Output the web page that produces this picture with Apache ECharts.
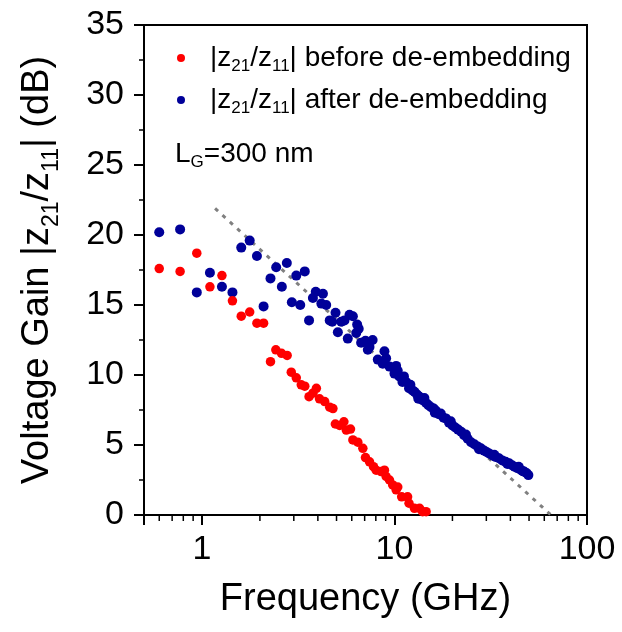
<!DOCTYPE html>
<html>
<head>
<meta charset="utf-8">
<script src="https://cdn.jsdelivr.net/npm/echarts@6/dist/echarts.min.js"></script>
<style>
  html, body { margin: 0; padding: 0; background: #fff; }
  #chart-container { width: 622px; height: 632px; }
</style>
</head>
<body>
<div id="chart-container"></div>
<script>
var dom = document.getElementById("chart-container");
var myChart = echarts.init(dom, null, { renderer: "canvas" });

var FONT = "Liberation Sans";

// |z21/z11| before de-embedding
var freqBefore = [0.60, 0.77, 0.94, 1.10, 1.27, 1.44, 1.60, 1.77, 1.93, 2.09,
  2.27, 2.42, 2.59, 2.77, 2.91, 3.09, 3.28, 3.42, 3.60, 3.77,
  3.93, 4.08, 4.34, 4.61, 4.79, 4.93, 5.19, 5.46, 5.62, 5.91,
  6.08, 6.45, 6.85, 7.07, 7.42, 7.78, 8.03, 8.52, 8.87, 9.05,
  9.42, 9.79, 10.2, 10.4, 10.9, 11.7, 11.9, 12.7, 13.5, 14.0, 14.6];
var gainBefore = [17.6, 17.4, 18.7, 16.3, 17.1, 15.3, 14.2, 14.5, 13.7, 13.7,
  10.95, 11.8, 11.55, 11.4, 10.2, 9.8, 9.3, 9.2, 8.45, 8.7,
  9.05, 8.3, 8.1, 7.7, 7.6, 6.5, 6.4, 6.66, 6.07, 6.14,
  5.36, 5.2, 4.76, 4.1, 3.8, 3.45, 3.2, 3.1, 3.2, 2.75,
  2.5, 2.15, 1.8, 2.0, 1.3, 1.3, 0.84, 0.48, 0.48, 0.24, 0.24];

// |z21/z11| after de-embedding
var freqAfter = [0.60, 0.77, 0.94, 1.10, 1.27, 1.44, 1.60, 1.77, 1.93, 2.09,
  2.27, 2.43, 2.60, 2.76, 2.93, 3.09, 3.24, 3.42, 3.60, 3.77,
  3.90, 4.17, 4.25, 4.42, 4.61, 4.75, 4.94, 5.08, 5.29, 5.50,
  5.72, 5.84, 6.08, 6.33, 6.40, 6.52, 6.71, 7.07, 7.27, 7.42,
  7.70, 8.19, 8.69, 8.87, 9.05, 9.42, 10.0, 10.2, 10.4, 10.6,
  11.0, 11.2, 11.5, 11.9, 12.1, 12.4, 12.7, 13.1, 13.3, 13.5,
  14.0, 14.3, 14.6, 15.0, 15.5, 16.0, 16.2, 16.4, 17.0, 17.4,
  18.0, 18.5, 19.2, 19.6, 20.0, 20.7, 21.4, 22.2, 23.0, 23.5,
  24.0, 25.0, 26.0, 27.0, 27.5, 28.1, 29.2, 30.1, 31.0, 32.3,
  33.0, 33.5, 34.9, 36.3, 37.8, 38.6, 39.4, 40.8, 42.0, 43.5,
  44.2, 45.0, 46.2, 47.1, 48.5, 49.6];
var gainAfter = [20.2, 20.4, 15.9, 17.3, 16.3, 15.9, 19.1, 19.6, 18.5, 14.9,
  16.9, 17.7, 16.3, 18.0, 15.2, 17.1, 15.0, 17.4, 13.9, 15.5,
  15.95, 15.1, 15.8, 15.0, 13.9, 13.8, 14.45, 13.05, 13.8, 13.9,
  12.6, 14.3, 14.2, 13.0, 13.6, 13.3, 12.3, 12.45, 11.8, 12.0,
  12.5, 11.1, 10.8, 11.7, 11.2, 10.6, 10.1, 10.65, 10.3, 9.9,
  9.5, 9.9, 9.5, 9.05, 9.3, 8.9, 8.8, 8.6, 8.3, 8.45,
  8.2, 8.35, 8.0, 7.85, 7.7, 7.6, 7.3, 7.45, 7.2, 7.25,
  6.95, 6.9, 6.6, 6.7, 6.4, 6.25, 6.1, 5.95, 5.7, 5.75,
  5.45, 5.2, 5.05, 4.9, 4.7, 4.76, 4.6, 4.5, 4.4, 4.25,
  4.3, 4.15, 4.05, 3.9, 3.8, 3.65, 3.7, 3.55, 3.45, 3.35,
  3.45, 3.25, 3.15, 3.1, 3.0, 2.85];

// dotted guide line
var trendFreq = [1.17, 65];
var trendGain = [21.9, 0];

// axis ticks
var xMajorTicks = [1, 10, 100];
var xMinorTicks = [0.6, 0.7, 0.8, 0.9, 2, 3, 4, 5, 6, 7, 8, 9,
  20, 30, 40, 50, 60, 70, 80, 90];

function zip(xs, ys) {
  return xs.map(function (x, i) { return [x, ys[i]]; });
}

var richMain = function (size, lh) {
  return {
    n: { fontSize: size, fontFamily: FONT, color: "#000", lineHeight: lh },
    s: { fontSize: Math.round(size * 0.6), fontFamily: FONT, color: "#000",
         lineHeight: Math.round(size * 0.6), verticalAlign: "top",
         padding: [Math.round(size * 0.62), 0, 0, 0] }
  };
};

var legendNames = {
  before: "{n||z}{s|21}{n|/z}{s|11}{n|| before de-embedding}",
  after: "{n||z}{s|21}{n|/z}{s|11}{n|| after de-embedding}"
};

var legendRich = richMain(28, 34);
legendRich.p = { width: 20 };

var option = {
  backgroundColor: "#fff",
  animation: false,
  grid: {
    left: 144, right: 35, top: 25, bottom: 117,
    show: true, borderColor: "#000", borderWidth: 2, containLabel: false
  },
  legend: {
    orient: "vertical",
    left: 172, top: 36,
    icon: "circle",
    itemWidth: 8, itemHeight: 8, itemGap: 8,
    data: ["before", "after"],
    formatter: function (name) { return "{p|}" + legendNames[name]; },
    textStyle: { fontFamily: FONT, fontSize: 28, color: "#000", rich: legendRich }
  },
  graphic: [{
    type: "text",
    left: 175, top: 137,
    style: {
      text: "{n|L}{s|G}{n|=300 nm}",
      rich: richMain(28, 34),
      fontFamily: FONT, fill: "#000"
    }
  }],
  xAxis: {
    type: "log",
    logBase: 10,
    min: 0.5, max: 100,
    name: "Frequency (GHz)",
    nameLocation: "middle",
    nameGap: 66,
    nameTextStyle: { fontFamily: FONT, fontSize: 38, color: "#000" },
    axisLine: { lineStyle: { color: "#000", width: 2 } },
    axisTick: { show: true, length: 10, lineStyle: { color: "#000", width: 2 } },
    axisLabel: { customValues: xMajorTicks, fontFamily: FONT, fontSize: 34,
      color: "#000", margin: 18,
      formatter: function (v) { return String(Math.round(v)); } },
    splitLine: { show: false },
    minorTick: { show: false }
  },
  yAxis: {
    type: "value",
    min: 0, max: 35, interval: 5,
    name: "{n|Voltage Gain |z}{s|21}{n|/z}{s|11}{n|| (dB)}",
    nameLocation: "middle",
    nameGap: 84,
    nameTextStyle: { fontFamily: FONT, fontSize: 38, color: "#000", rich: richMain(38, 44) },
    axisLine: { show: true, lineStyle: { color: "#000", width: 2 } },
    axisTick: { show: true, length: 10, lineStyle: { color: "#000", width: 2 } },
    minorTick: { show: true, splitNumber: 2, length: 5, lineStyle: { color: "#000", width: 1.5 } },
    axisLabel: { fontFamily: FONT, fontSize: 34, color: "#000", margin: 20 },
    splitLine: { show: false }
  },
  series: [{
    name: "trend",
    type: "line",
    data: zip(trendFreq, trendGain),
    symbol: "none",
    lineStyle: { color: "#808080", width: 3, type: [4, 6] },
    silent: true,
    z: 1
  }, {
    name: "xMinor",
    type: "scatter",
    data: xMinorTicks.map(function (f) { return [f, 0]; }),
    symbol: "rect",
    symbolSize: [1.5, 5],
    symbolOffset: [0, 3.5],
    itemStyle: { color: "#000", opacity: 1 },
    clip: false,
    silent: true,
    z: 5
  }, {
    name: "before",
    type: "scatter",
    data: zip(freqBefore, gainBefore),
    symbol: "circle",
    symbolSize: 9.5,
    itemStyle: { color: "#ff0000", opacity: 1 },
    z: 3
  }, {
    name: "after",
    type: "scatter",
    data: zip(freqAfter, gainAfter),
    symbol: "circle",
    symbolSize: 10,
    itemStyle: { color: "#000099", opacity: 1 },
    z: 2
  }]
};

myChart.setOption(option);

window.addEventListener("resize", function () {
  myChart.resize();
});
</script>
</body>
</html>
